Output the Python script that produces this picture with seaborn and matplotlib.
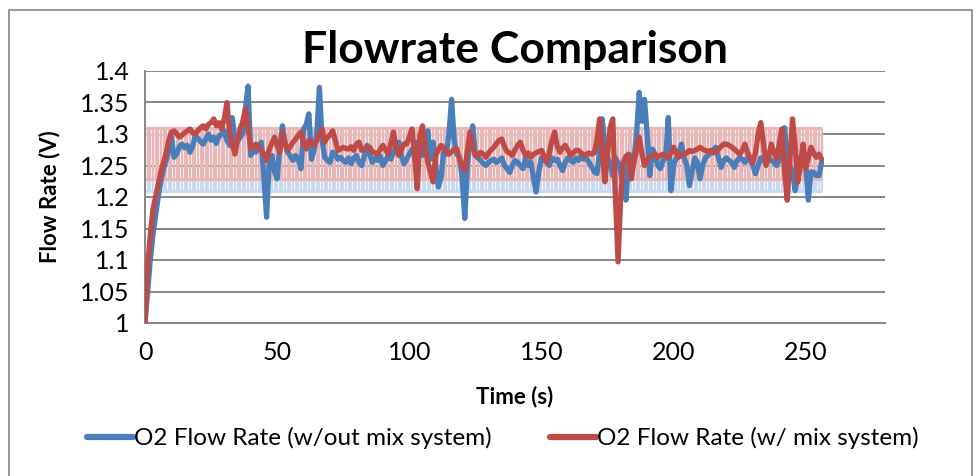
import numpy as np
import pandas as pd
import matplotlib
matplotlib.use("Agg")
import matplotlib.pyplot as plt
from matplotlib.lines import Line2D
from matplotlib.patches import Rectangle
import seaborn as sns

# ---------------- data ----------------
time_s = np.arange(0, 257)

flow_without_mix = [
    1.000, 1.050, 1.100, 1.140, 1.170, 1.200, 1.225, 1.245, 1.258, 1.275,
    1.295, 1.263, 1.268, 1.280, 1.284, 1.278, 1.282, 1.271, 1.280, 1.297,
    1.293, 1.288, 1.284, 1.292, 1.300, 1.290, 1.295, 1.285, 1.297, 1.300,
    1.305, 1.290, 1.282, 1.326, 1.292, 1.288, 1.295, 1.300, 1.340, 1.376,
    1.266, 1.275, 1.271, 1.280, 1.287, 1.230, 1.168, 1.255, 1.266, 1.240,
    1.229, 1.280, 1.313, 1.285, 1.271, 1.265, 1.258, 1.266, 1.260, 1.245,
    1.308, 1.315, 1.332, 1.260, 1.275, 1.300, 1.374, 1.290, 1.263, 1.258,
    1.255, 1.271, 1.268, 1.260, 1.263, 1.258, 1.255, 1.262, 1.253, 1.262,
    1.266, 1.255, 1.250, 1.265, 1.282, 1.268, 1.255, 1.262, 1.258, 1.265,
    1.250, 1.258, 1.266, 1.260, 1.270, 1.280, 1.287, 1.265, 1.253, 1.260,
    1.268, 1.275, 1.280, 1.287, 1.270, 1.266, 1.285, 1.305, 1.260, 1.287,
    1.250, 1.216, 1.230, 1.271, 1.268, 1.300, 1.355, 1.290, 1.268, 1.263,
    1.230, 1.166, 1.250, 1.290, 1.313, 1.266, 1.262, 1.258, 1.253, 1.250,
    1.255, 1.258, 1.260, 1.255, 1.258, 1.262, 1.250, 1.245, 1.239, 1.250,
    1.258, 1.255, 1.250, 1.245, 1.262, 1.250, 1.255, 1.230, 1.208, 1.240,
    1.262, 1.258, 1.255, 1.250, 1.262, 1.258, 1.260, 1.250, 1.242, 1.255,
    1.262, 1.258, 1.255, 1.262, 1.258, 1.265, 1.260, 1.262, 1.255, 1.248,
    1.240, 1.237, 1.270, 1.324, 1.280, 1.262, 1.255, 1.234, 1.262, 1.255,
    1.240, 1.218, 1.195, 1.262, 1.266, 1.260, 1.300, 1.366, 1.320, 1.355,
    1.300, 1.234, 1.276, 1.268, 1.250, 1.245, 1.258, 1.262, 1.326, 1.210,
    1.250, 1.262, 1.270, 1.284, 1.262, 1.250, 1.218, 1.240, 1.262, 1.255,
    1.229, 1.250, 1.262, 1.266, 1.270, 1.275, 1.279, 1.262, 1.247, 1.258,
    1.262, 1.258, 1.255, 1.247, 1.258, 1.262, 1.260, 1.255, 1.262, 1.258,
    1.250, 1.237, 1.250, 1.262, 1.258, 1.255, 1.262, 1.258, 1.255, 1.250,
    1.258, 1.280, 1.310, 1.262, 1.250, 1.240, 1.210, 1.235, 1.262, 1.266,
    1.250, 1.195, 1.240, 1.239, 1.234, 1.234, 1.255,
]

flow_with_mix = [
    1.000, 1.090, 1.140, 1.180, 1.200, 1.220, 1.240, 1.255, 1.270, 1.290,
    1.303, 1.305, 1.300, 1.295, 1.298, 1.302, 1.305, 1.308, 1.302, 1.300,
    1.305, 1.310, 1.313, 1.308, 1.315, 1.318, 1.324, 1.313, 1.318, 1.308,
    1.325, 1.350, 1.303, 1.285, 1.268, 1.290, 1.308, 1.320, 1.340, 1.310,
    1.276, 1.280, 1.284, 1.278, 1.274, 1.268, 1.258, 1.275, 1.285, 1.295,
    1.282, 1.271, 1.303, 1.285, 1.274, 1.280, 1.287, 1.292, 1.298, 1.303,
    1.285, 1.276, 1.290, 1.286, 1.282, 1.290, 1.300, 1.308, 1.287, 1.295,
    1.298, 1.305, 1.290, 1.274, 1.276, 1.279, 1.277, 1.276, 1.280, 1.274,
    1.284, 1.287, 1.274, 1.276, 1.279, 1.279, 1.272, 1.270, 1.268, 1.276,
    1.282, 1.275, 1.268, 1.285, 1.303, 1.280, 1.266, 1.275, 1.284, 1.284,
    1.295, 1.308, 1.265, 1.213, 1.297, 1.313, 1.280, 1.255, 1.240, 1.224,
    1.266, 1.275, 1.282, 1.278, 1.272, 1.268, 1.272, 1.276, 1.276, 1.260,
    1.250, 1.242, 1.275, 1.303, 1.280, 1.266, 1.265, 1.271, 1.268, 1.263,
    1.270, 1.275, 1.279, 1.285, 1.290, 1.292, 1.280, 1.272, 1.270, 1.266,
    1.275, 1.282, 1.287, 1.275, 1.266, 1.270, 1.263, 1.268, 1.270, 1.272,
    1.274, 1.265, 1.255, 1.270, 1.290, 1.303, 1.280, 1.271, 1.278, 1.282,
    1.275, 1.266, 1.270, 1.274, 1.274, 1.270, 1.266, 1.268, 1.270, 1.268,
    1.270, 1.290, 1.324, 1.275, 1.224, 1.270, 1.310, 1.324, 1.200, 1.097,
    1.200, 1.255, 1.265, 1.268, 1.229, 1.255, 1.275, 1.295, 1.270, 1.250,
    1.258, 1.263, 1.266, 1.268, 1.263, 1.266, 1.268, 1.265, 1.263, 1.270,
    1.279, 1.270, 1.263, 1.268, 1.268, 1.270, 1.274, 1.272, 1.274, 1.276,
    1.279, 1.276, 1.274, 1.272, 1.274, 1.270, 1.272, 1.276, 1.280, 1.284,
    1.284, 1.282, 1.279, 1.276, 1.272, 1.268, 1.274, 1.284, 1.270, 1.262,
    1.255, 1.270, 1.300, 1.318, 1.285, 1.250, 1.265, 1.284, 1.270, 1.260,
    1.285, 1.308, 1.240, 1.195, 1.260, 1.324, 1.280, 1.224, 1.250, 1.284,
    1.245, 1.262, 1.279, 1.270, 1.263, 1.268, 1.260,
]

# error-bar (standard deviation) bands: (low, high)
band_without_mix = (1.209, 1.300)
band_with_mix = (1.228, 1.309)

series_names = ["O2 Flow Rate (w/out mix system)", "O2 Flow Rate (w/ mix system)"]
x_ticks = [0, 50, 100, 150, 200, 250]
y_ticks = [1, 1.05, 1.1, 1.15, 1.2, 1.25, 1.3, 1.35, 1.4]
y_tick_labels = ["1", "1.05", "1.1", "1.15", "1.2", "1.25", "1.3", "1.35", "1.4"]

# ---------------- style ----------------
sns.set_theme(style="white")
plt.rcParams["font.family"] = ["Lato", "DejaVu Sans"]
plt.rcParams["text.color"] = "black"
plt.rcParams["axes.labelcolor"] = "black"
plt.rcParams["xtick.color"] = "black"
plt.rcParams["ytick.color"] = "black"

BLUE = "#4A7EBB"
RED = "#BE4B48"
BLUE_ERR = "#C9DAF0"
RED_ERR = "#E8B7B6"
GRID = "#868686"

df = pd.DataFrame({
    "Time (s)": np.concatenate([time_s, time_s]),
    "Flow Rate (V)": np.concatenate([flow_without_mix, flow_with_mix]),
    "Series": [series_names[0]] * len(time_s) + [series_names[1]] * len(time_s),
})

fig = plt.figure(figsize=(9.8, 4.76), dpi=100)
ax = fig.add_axes([145 / 980, 1 - 323 / 476, (885 - 145) / 980, (323 - 71) / 476])

# outer chart frame
fig.patches.append(Rectangle((9 / 980, -0.05), (972 - 9) / 980, 1.05 - 10 / 476,
                             transform=fig.transFigure, fill=False,
                             edgecolor=GRID, lw=1.2, zorder=0))

# error bars
for (lo, hi), col, z in [(band_without_mix, BLUE_ERR, 1.0), (band_with_mix, RED_ERR, 1.2)]:
    ax.vlines(time_s, lo, hi, colors=col, lw=1.6, zorder=z)
    ax.hlines([lo, hi], time_s[0], time_s[-1], colors=col, lw=2.2, zorder=z)

sns.lineplot(data=df, x="Time (s)", y="Flow Rate (V)", hue="Series",
             palette=[BLUE, RED], hue_order=series_names, lw=3.8,
             legend=False, ax=ax, zorder=3, sort=False)
ax.lines[-1].set_zorder(4)

ax.set_xlim(0, 280)
ax.set_ylim(1, 1.4)
ax.set_xticks(x_ticks)
ax.set_xticklabels([str(t) for t in x_ticks], fontsize=18)
ax.set_yticks(y_ticks)
ax.set_yticklabels(y_tick_labels, fontsize=18)
ax.tick_params(axis="x", length=0, pad=13, labelcolor="black")
ax.tick_params(axis="y", length=0, pad=11, labelcolor="black")

ax.grid(axis="y", color=GRID, lw=1.4, zorder=0.5)
ax.set_axisbelow(True)
for s in ["top", "right"]:
    ax.spines[s].set_visible(False)
for s in ["left", "bottom"]:
    ax.spines[s].set_color(GRID)
    ax.spines[s].set_linewidth(1.4)

ax.set_xlabel("Time (s)", fontsize=16, fontweight="bold", color="black")
ax.set_ylabel("Flow Rate (V)", fontsize=16, fontweight="bold", color="black")
ax.xaxis.set_label_coords(0.5, (323 - 386) / 252)
ax.yaxis.set_label_coords((60 - 145) / 740, 0.5)
ax.set_title("Flowrate Comparison", fontsize=32, fontweight="bold", pad=6, color="black")

handles = [Line2D([0], [0], color=BLUE, lw=4.5), Line2D([0], [0], color=RED, lw=4.5)]
leg = fig.legend(handles, series_names, loc="center", bbox_to_anchor=(0.513, 1 - 438 / 476),
                 ncol=2, frameon=False, fontsize=17.5, handlelength=1.9, handletextpad=0.05,
                 columnspacing=2.4)
for t in leg.get_texts():
    t.set_color("black")

fig.savefig("out.png", dpi=100)
